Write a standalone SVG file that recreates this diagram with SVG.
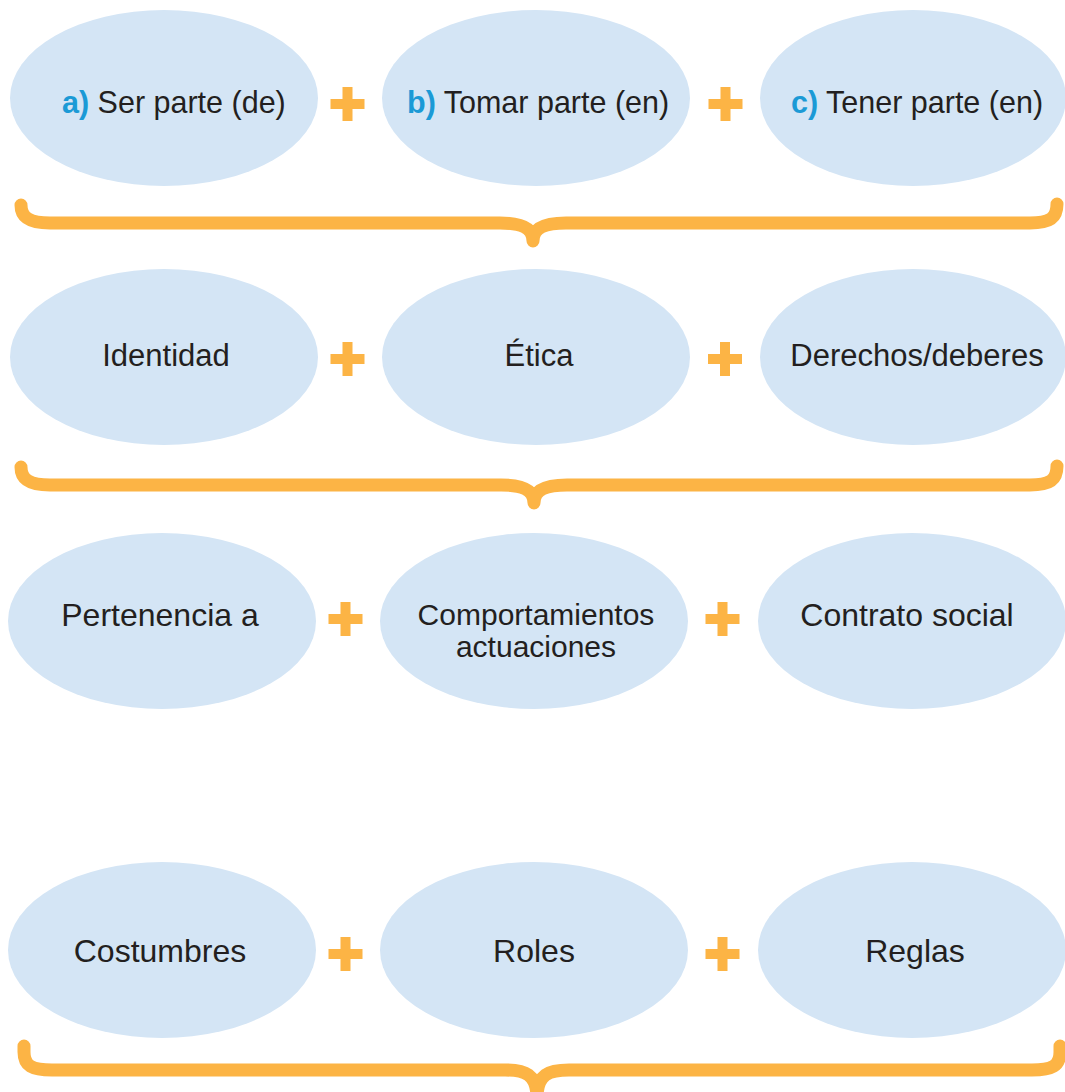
<svg xmlns="http://www.w3.org/2000/svg" width="1065" height="1092" viewBox="0 0 1065 1092">
<style>
.node ellipse{fill:#d4e5f5}
.t{font-family:"Liberation Sans",Arial,sans-serif;fill:#231f20}
.r1{font-size:30.5px}
.r2{font-size:31px;text-anchor:middle}
.r3{font-size:32px;text-anchor:middle}
.r3s{font-size:30px;text-anchor:middle}
.lbl{font-weight:bold;fill:#1b9ad6}
.brace{fill:none;stroke:#fcb445;stroke-width:13;stroke-linecap:round;stroke-linejoin:round}
.plus{fill:#fcb445}
</style>
<defs>
<g id="plus"><rect x="-17" y="-5" width="34" height="10"/><rect x="-5" y="-17" width="10" height="34"/></g>
</defs>
<rect width="1065" height="1092" fill="#ffffff"/>

<g id="n-a" class="node"><ellipse cx="164" cy="98" rx="154" ry="88"/><text class="t r1" x="62" y="113"><tspan class="lbl">a)</tspan> Ser parte (de)</text></g>
<g id="n-b" class="node"><ellipse cx="536" cy="98" rx="154" ry="88"/><text class="t r1" x="407" y="113"><tspan class="lbl">b)</tspan> Tomar parte (en)</text></g>
<g id="n-c" class="node"><ellipse cx="913" cy="98" rx="153" ry="88"/><text class="t r1" x="791" y="113"><tspan class="lbl">c)</tspan> Tener parte (en)</text></g>

<g id="n-identidad" class="node"><ellipse cx="164" cy="357" rx="154" ry="88"/><text class="t r2" x="166" y="366">Identidad</text></g>
<g id="n-etica" class="node"><ellipse cx="536" cy="357" rx="154" ry="88"/><text class="t r2" x="539" y="366">Ética</text></g>
<g id="n-derechos" class="node"><ellipse cx="913" cy="357" rx="153" ry="88"/><text class="t r2" x="917" y="366">Derechos/deberes</text></g>

<g id="n-pertenencia" class="node"><ellipse cx="162" cy="621" rx="154" ry="88"/><text class="t r3" x="160" y="626">Pertenencia a</text></g>
<g id="n-comportamientos" class="node"><ellipse cx="534" cy="621" rx="154" ry="88"/><text class="t r3s" x="536" y="625">Comportamientos</text><text class="t r3s" x="536" y="657">actuaciones</text></g>
<g id="n-contrato" class="node"><ellipse cx="912" cy="621" rx="154" ry="88"/><text class="t r3" x="907" y="626">Contrato social</text></g>

<g id="n-costumbres" class="node"><ellipse cx="162" cy="950" rx="154" ry="88"/><text class="t r3" x="160" y="962">Costumbres</text></g>
<g id="n-roles" class="node"><ellipse cx="534" cy="950" rx="154" ry="88"/><text class="t r3" x="534" y="962">Roles</text></g>
<g id="n-reglas" class="node"><ellipse cx="912" cy="950" rx="154" ry="88"/><text class="t r3" x="915" y="962">Reglas</text></g>

<g id="connectors">
<g class="plus">
<use href="#plus" x="347.5" y="104"/><use href="#plus" x="725.5" y="104"/>
<use href="#plus" x="347.5" y="359"/><use href="#plus" x="725" y="359"/>
<use href="#plus" x="345.5" y="619"/><use href="#plus" x="722.5" y="619"/>
<use href="#plus" x="345.5" y="954"/><use href="#plus" x="722.5" y="954"/>
</g>
<path class="brace" d="M21,205 C21,218 30,223 50,223 L500,223 C520,223 533,227 533,241 C533,227 546,223 566,223 L1030,223 C1050,223 1057,218 1057,204"/>
<path class="brace" d="M21,467 C21,480 30,485 50,485 L501,485 C521,485 534,489 534,503 C534,489 547,485 567,485 L1030,485 C1050,485 1057,480 1057,466"/>
<path class="brace" d="M24,1046 L24,1052 C24,1066 32,1070 52,1070 L505,1070 C525,1070 537,1074 537,1098 C537,1074 549,1070 569,1070 L1032,1070 C1052,1070 1060,1066 1060,1052 L1060,1046"/>
</g>
</svg>
